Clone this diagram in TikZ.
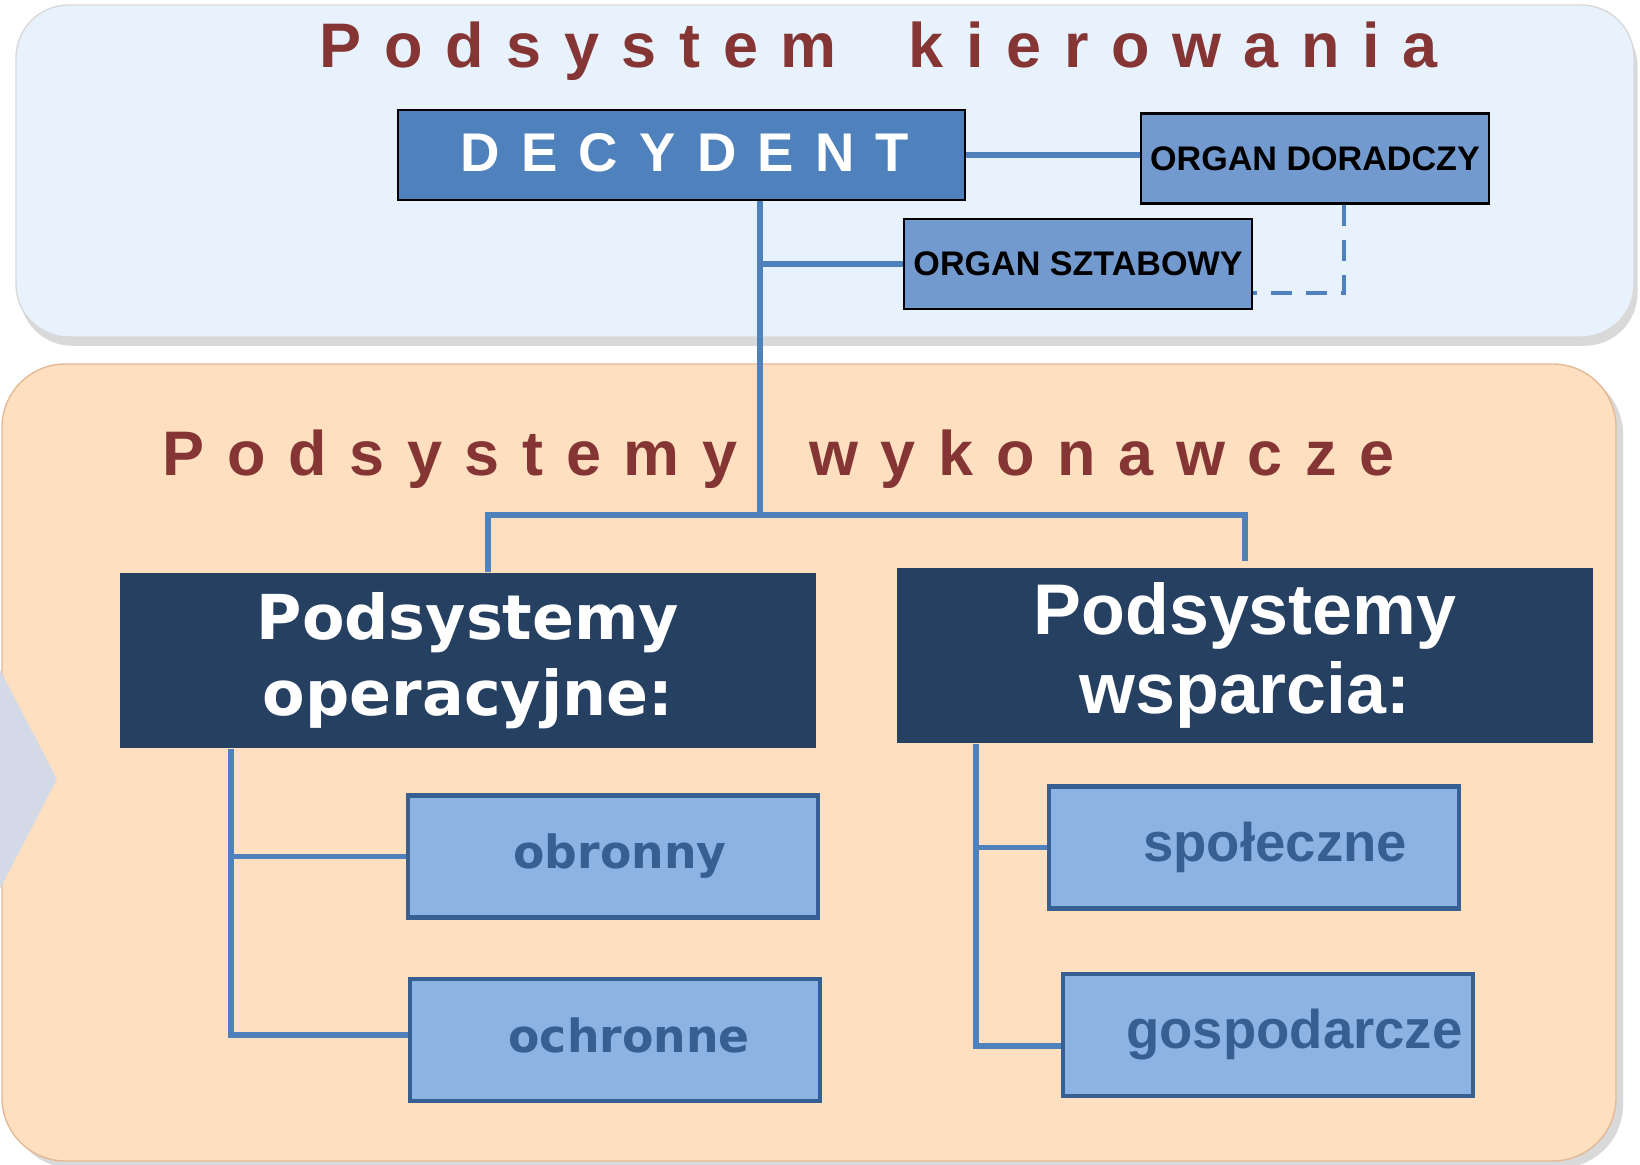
\documentclass[tikz,border=0pt]{standalone}
\usepackage{fontspec}
\setmainfont{Liberation Sans}
\newfontfamily\dejavu{DejaVu Sans}
\newfontfamily\spaced[LetterSpace=36]{Liberation Sans}
\usetikzlibrary{calc,shadows}
\definecolor{paleblue}{RGB}{232,242,252}
\definecolor{peach}{RGB}{254,224,192}
\definecolor{peachedge}{RGB}{228,186,150}
\definecolor{wine}{RGB}{132,53,52}
\definecolor{steelblue}{RGB}{79,129,189}
\definecolor{midblue}{RGB}{114,154,206}
\definecolor{navy}{RGB}{38,64,97}
\definecolor{lightblue}{RGB}{141,179,226}
\definecolor{deepblue}{RGB}{54,96,146}
\definecolor{chevgrey}{RGB}{211,217,230}

\begin{document}
\begin{tikzpicture}[x=0.01cm,y=-0.01cm,
    link/.style={steelblue,line width=1.5pt},
    organ/.style={draw=black,line width=0.6pt,fill=midblue,inner sep=0pt,
      minimum width=3.48cm,minimum height=0.9cm,
      font=\bfseries\fontsize{9.7}{11}\selectfont},
    head/.style={fill=navy,text=white,inner sep=0pt,align=center,
      minimum width=6.96cm,minimum height=1.75cm},
    sub/.style={draw=deepblue,line width=1.2pt,fill=lightblue,text=deepblue,
      inner sep=0pt,minimum width=4.1cm,minimum height=1.22cm}]
    \useasboundingbox (0,0) rectangle (1640,1165);

    % Panels
    \draw[rounded corners=15pt,fill=paleblue,draw=gray!30,
      drop shadow={shadow xshift=1pt,shadow yshift=-2.5pt,opacity=0.3}]
      (16,5) rectangle (1634,337);
    \draw[rounded corners=18pt,fill=peach,draw=peachedge,
      drop shadow={shadow xshift=2pt,shadow yshift=-2pt,opacity=0.3}]
      (2,364) rectangle (1616,1161);
    \fill[chevgrey] (0,670) -- (57,779) -- (0,889) -- cycle;

    % Panel titles
    \node[anchor=base west,inner sep=0pt,text=wine,
      font=\spaced\bfseries\fontsize{17.9}{20}\selectfont]
      (ttop) at (319,68) {Podsystem\hspace{9pt} kierowania};
    \node[anchor=base west,inner sep=0pt,text=wine,
      font=\spaced\bfseries\fontsize{17.9}{20}\selectfont]
      (tbot) at (162,476) {Podsystemy\hspace{9pt} wykonawcze};

    % Control boxes
    \node[draw=black,line width=0.6pt,fill=steelblue,text=white,inner sep=0pt,
      minimum width=5.67cm,minimum height=0.9cm,
      font=\spaced\addfontfeature{LetterSpace=39}\bfseries\fontsize{15.5}{18}\selectfont]
      (dec) at (681.5,155) {\raisebox{1.5pt}{\hspace*{2pt}DECYDENT}};
    \node[organ] (dor) at (1315,158.5) {ORGAN DORADCZY};
    \node[organ] (szt) at (1078,264) {ORGAN SZTABOWY};

    % Executive boxes
    \node[head,font=\dejavu\bfseries\fontsize{17.6}{21.6}\selectfont]
      (op) at (468,660.5) {Podsystemy\\operacyjne:};
    \node[head,font=\bfseries\fontsize{20.4}{22.3}\selectfont]
      (wsp) at (1245,655.5) {\raisebox{-1.5pt}{Podsystemy}\\\raisebox{-1.5pt}{wsparcia:}};
    \node[sub,font=\dejavu\bfseries\fontsize{13}{15}\selectfont]
      (obr) at (613,856.5) {\hspace*{4pt}obronny};
    \node[sub,font=\dejavu\bfseries\fontsize{13}{15}\selectfont]
      (och) at (615,1040) {\raisebox{3pt}{\hspace*{8pt}ochronne}};
    \node[sub,font=\bfseries\fontsize{15.5}{18}\selectfont]
      (spo) at (1254,847.5) {\hspace*{12pt}społeczne};
    \node[sub,font=\bfseries\fontsize{15.5}{18}\selectfont]
      (gos) at (1268,1035) {\hspace*{15pt}gospodarcze};

    % Connectors
    \coordinate (hub) at (760,515);
    \coordinate (optrunk) at ($(op.south west)+(112,0)$);
    \coordinate (wtrunk) at ($(wsp.south west)+(80,0)$);
    \draw[link] (dec.east) -- (dec.east -| dor.west);
    \draw[link] (hub |- dec.south) -- (hub);
    \draw[link] (szt.west) -- (szt.west -| hub);
    \draw[steelblue,line width=1.2pt,dash pattern=on 6pt off 4pt]
      ($(dor.south)+(29,0)$) |- ($(szt.east)+(0,29)$);
    \draw[link] ($(op.north)+(20,0)$) |- (hub) -| ($(wsp.north)+(0,-6)$);
    \draw[link] (optrunk) |- ($(och.west)+(0,-5)$);
    \draw[link] (obr.west) -- (obr.west -| optrunk);
    \draw[link] (wtrunk) |- ($(gos.west)+(0,11)$);
    \draw[link] (spo.west) -- (spo.west -| wtrunk);
\end{tikzpicture}
\end{document}
